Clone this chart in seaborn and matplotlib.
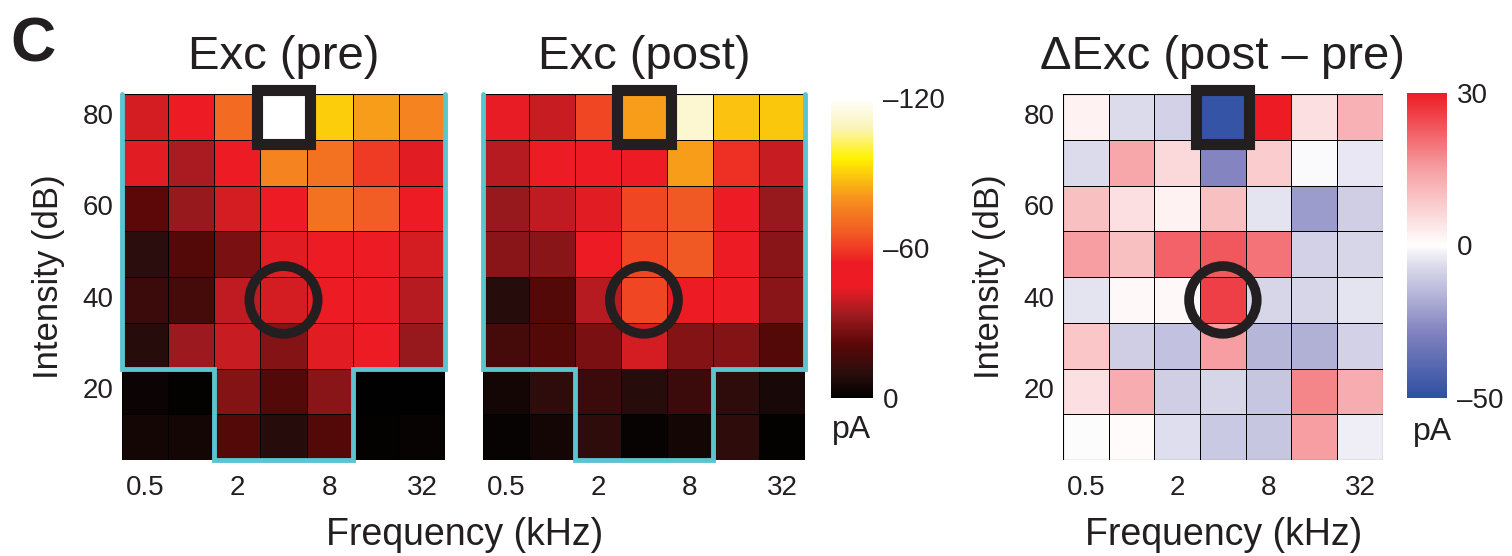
import numpy as np
import pandas as pd
import matplotlib
matplotlib.use("Agg")
import matplotlib.pyplot as plt
import seaborn as sns
from matplotlib.colors import LinearSegmentedColormap, TwoSlopeNorm
from matplotlib.patches import Rectangle, Circle

sns.set_theme(style="white")
ink = "#231F20"
plt.rcParams['font.family'] = ['Liberation Sans', 'DejaVu Sans']
plt.rcParams['text.color'] = ink
plt.rcParams['axes.labelcolor'] = ink
plt.rcParams['xtick.color'] = ink
plt.rcParams['ytick.color'] = ink

freqs = ["0.5", "1", "2", "4", "8", "16", "32"]
intens = [80, 70, 60, 50, 40, 30, 20, 10]
xtick_labels = ["0.5", "2", "8", "32"]
ytick_labels = ["80", "60", "40", "20"]

# excitatory current (pA), rows top (80 dB) to bottom (10 dB)
exc_pre = [
    [-41, -52, -70, -120, -90, -82, -76],
    [-43, -35, -52, -76, -72, -60, -43],
    [-22, -32, -41, -52, -72, -67, -45],
    [-10, -20, -27, -43, -52, -52, -41],
    [-14, -16, -38, -41, -52, -52, -37],
    [-9, -33, -39, -29, -43, -52, -32],
    [-3, -1, -29, -20, -30, -0.5, -0.5],
    [-5, -5, -20, -9, -20, -1, -2],
]
exc_post = [
    [-44, -39, -62, -82, -112, -88, -89],
    [-37, -52, -51, -52, -82, -58, -39],
    [-32, -38, -43, -62, -66, -52, -32],
    [-30, -30, -51, -62, -66, -52, -30],
    [-9, -20, -37, -62, -52, -52, -30],
    [-16, -20, -27, -41, -29, -29, -20],
    [-5, -11, -14, -9, -14, -11, -6],
    [-2, -5, -11, -2, -5, -11, -1],
]
exc_delta = [
    [2, -7, -9, -48, 30, 5, 12],
    [-7, 14, 6, -28, 8, -1, -4],
    [10, 5, 2, 10, -5, -22, -10],
    [15, 10, 22, 23, 20, -9, -8],
    [-5, 1, 1, 26, -8, -8, -5],
    [9, -10, -13, 15, -16, -17, -9],
    [5, 13, -10, -8, -12, 18, 13],
    [-0.5, 0.5, -6, -11, -12, 15, -3],
]
hot_ticks = [-120, -60, 0]
hot_ticklabels = ["\u2013120", "\u201360", "0"]
div_ticks = [30, 0, -50]
div_ticklabels = ["30", "0", "\u201350"]

hot_cmap = LinearSegmentedColormap.from_list("hotexc", [
    (0.0, "#FFFFFF"), (0.1, "#FBF3B8"), (0.2, "#FFF200"), (0.33, "#F7941D"),
    (0.45, "#F15A24"), (0.55, "#ED1C24"), (0.63, "#ED1C24"), (0.72, "#A01B20"),
    (0.82, "#5C0808"), (0.92, "#2A0D0D"), (1.0, "#000000")])
div_cmap = LinearSegmentedColormap.from_list("divexc", [
    (0.0, "#2E4FA2"), (0.22, "#8384C0"), (0.4, "#CFCEE5"), (0.45, "#E3E2F0"),
    (0.5, "#FFFFFF"), (0.75, "#F6A0A3"), (1.0, "#ED1C24")])
div_norm = TwoSlopeNorm(vmin=-50, vcenter=0, vmax=30)

fig = plt.figure(figsize=(15.12, 5.56), dpi=100)
ax1 = fig.add_axes([0.0807, 0.1727, 0.2136, 0.658])
ax2 = fig.add_axes([0.3194, 0.1727, 0.2130, 0.658])
ax3 = fig.add_axes([0.7030, 0.1727, 0.2116, 0.658])
cax1 = fig.add_axes([0.5496, 0.284, 0.0278, 0.54])
cax2 = fig.add_axes([0.9306, 0.284, 0.0265, 0.549])

cyan = "#5BC5CF"

def draw(ax, data, cmap, norm=None, vmin=None, vmax=None):
    df = pd.DataFrame(data, index=intens, columns=freqs)
    sns.heatmap(df, ax=ax, cmap=cmap, norm=norm, vmin=vmin, vmax=vmax,
                cbar=False, linewidths=0.6, linecolor="black")
    ax.set_xlim(0, 7)
    ax.set_ylim(8, 0)
    ax.set_xticks([0.5, 2.5, 4.5, 6.5])
    ax.set_xticklabels(xtick_labels, fontsize=20, rotation=0)
    ax.set_yticks([0.5, 2.5, 4.5, 6.5])
    ax.set_yticklabels(ytick_labels, fontsize=20, rotation=0)
    ax.tick_params(axis="x", length=0, pad=11)
    ax.tick_params(axis="y", length=0, pad=6)
    ax.set_xlabel("")
    ax.set_ylabel("")
    ax.add_patch(Rectangle((0, 0), 7, 8, fill=False, ec="black", lw=0.8, zorder=4))
    ax.add_patch(Rectangle((3.5 - 0.58, 0.5 - 0.58), 1.16, 1.16, fill=False,
                           ec=ink, lw=8, zorder=6, clip_on=False))
    ax.add_patch(Circle((3.5, 4.5), 0.74, fill=False, ec=ink, lw=7, zorder=6))
    for s in ax.spines.values():
        s.set_visible(False)
    return ax.collections[0]

def outline(ax):
    xs = [0, 0, 2, 2, 5, 5, 7, 7]
    ys = [0, 6, 6, 8, 8, 6, 6, 0]
    ax.plot(xs, ys, color=cyan, lw=3.5, zorder=5, clip_on=False,
            solid_joinstyle="miter")

m1 = draw(ax1, exc_pre, hot_cmap, vmin=-120, vmax=0)
draw(ax2, exc_post, hot_cmap, vmin=-120, vmax=0)
m3 = draw(ax3, exc_delta, div_cmap, norm=div_norm)
outline(ax1)
outline(ax2)
ax2.set_yticklabels([])

ax1.set_ylabel("Intensity (dB)", fontsize=25, labelpad=13)
ax3.set_ylabel("Intensity (dB)", fontsize=25, labelpad=13)

fig.text(465 / 1512, 1 - 545 / 556, "Frequency (kHz)", fontsize=27,
         ha="center", va="baseline")
fig.text(1224 / 1512, 1 - 545 / 556, "Frequency (kHz)", fontsize=27,
         ha="center", va="baseline")

ax1.set_title("Exc (pre)", fontsize=34, pad=18)
ax2.set_title("Exc (post)", fontsize=34, pad=18)
ax3.set_title("\u0394Exc (post \u2013 pre)", fontsize=34, pad=18)

cb1 = fig.colorbar(m1, cax=cax1)
cax1.invert_yaxis()
cb1.set_ticks(hot_ticks)
cb1.set_ticklabels(hot_ticklabels)
cb1.outline.set_visible(False)
cax1.tick_params(length=0, labelsize=20, pad=7)

cb2 = fig.colorbar(m3, cax=cax2)
cb2.set_ticks(div_ticks)
cb2.set_ticklabels(div_ticklabels)
cb2.outline.set_visible(False)
cax2.tick_params(length=0, labelsize=20, pad=7)

fig.text(832 / 1512, 1 - 438 / 556, "pA", fontsize=23, ha="left", va="baseline")
fig.text(1413 / 1512, 1 - 440 / 556, "pA", fontsize=23, ha="left", va="baseline")
fig.text(10 / 1512, 1 - 62 / 556, "C", fontsize=45, fontweight="bold",
         ha="left", va="baseline")

fig.savefig("out.png", dpi=100)
